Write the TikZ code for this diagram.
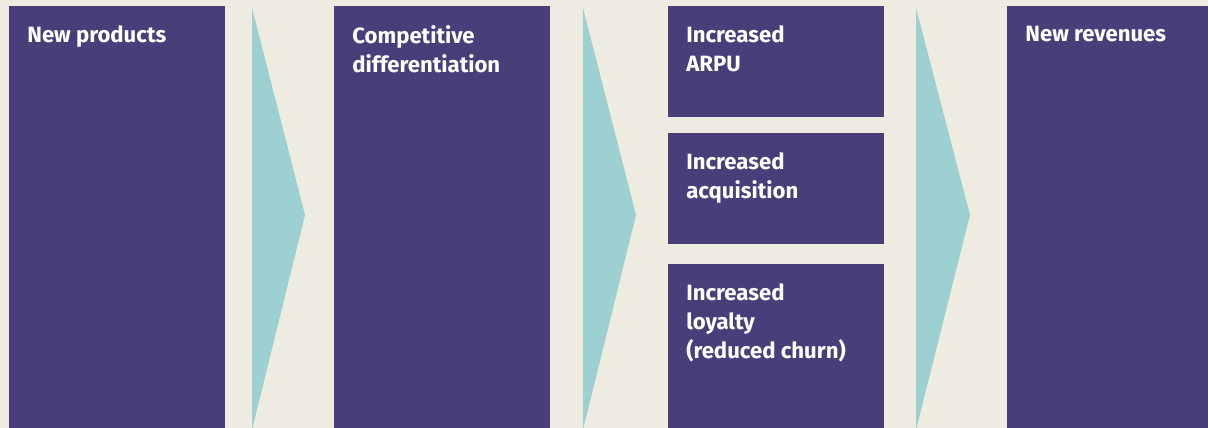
\documentclass[tikz,border=0pt]{standalone}
\usepackage{fontspec}
\setmainfont{Fira Sans}
\usetikzlibrary{positioning}
\definecolor{PanelBG}{HTML}{EEEBE0}
\definecolor{Plum}{HTML}{483F7A}
\definecolor{Aqua}{HTML}{9DD0D1}

\begin{document}
\begin{tikzpicture}[x=0.02cm,y=-0.02cm,
    stage/.style={rectangle,fill=Plum,inner sep=0pt,anchor=north west},
    slbl/.style={anchor=north west,inner sep=0pt,text=white,align=left,
      font=\fontsize{12.6}{16.5}\selectfont\bfseries},
    chev/.style={fill=Aqua},
  ]
  % background panel
  \fill[PanelBG] (0,0) rectangle (1208,428);
  \useasboundingbox (0,0) rectangle (1208,428);
  \clip (0,0) rectangle (1208,428);
  % tall stages
  \node[stage,minimum width=4.32cm,minimum height=8.6cm] (prod) at (9,6) {};
  \node[stage,minimum width=4.32cm,minimum height=8.6cm] (diff) at (334,6) {};
  \node[stage,minimum width=4.5cm,minimum height=8.6cm] (rev) at (1007,6) {};
  % stacked effects
  \node[stage,minimum width=4.32cm,minimum height=2.22cm] (arpu) at (668,6) {};
  \node[stage,minimum width=4.32cm,minimum height=2.22cm] (acq) at (668,133) {};
  \node[stage,minimum width=4.32cm,minimum height=3.6cm] (loyal) at (668,264) {};
  % labels
  \node[slbl] at ([xshift=0.36cm,yshift=-0.39cm]prod.north west) {New products};
  \node[slbl] at ([xshift=0.36cm,yshift=-0.39cm]diff.north west) {Competitive\\differentiation};
  \node[slbl] at ([xshift=0.36cm,yshift=-0.39cm]arpu.north west) {Increased\\ARPU};
  \node[slbl] at ([xshift=0.36cm,yshift=-0.39cm]acq.north west) {Increased\\acquisition};
  \node[slbl] at ([xshift=0.36cm,yshift=-0.39cm]loyal.north west) {Increased\\loyalty\\(reduced churn)};
  \node[slbl] at ([xshift=0.36cm,yshift=-0.39cm]rev.north west) {New revenues};
  % chevrons between stages
  \fill[chev] (252,8) -- (305,215) -- (252,430) -- cycle;
  \fill[chev] (583,8) -- (636,215) -- (583,430) -- cycle;
  \fill[chev] (916,8) -- (970,215) -- (916,430) -- cycle;
\end{tikzpicture}
\end{document}
